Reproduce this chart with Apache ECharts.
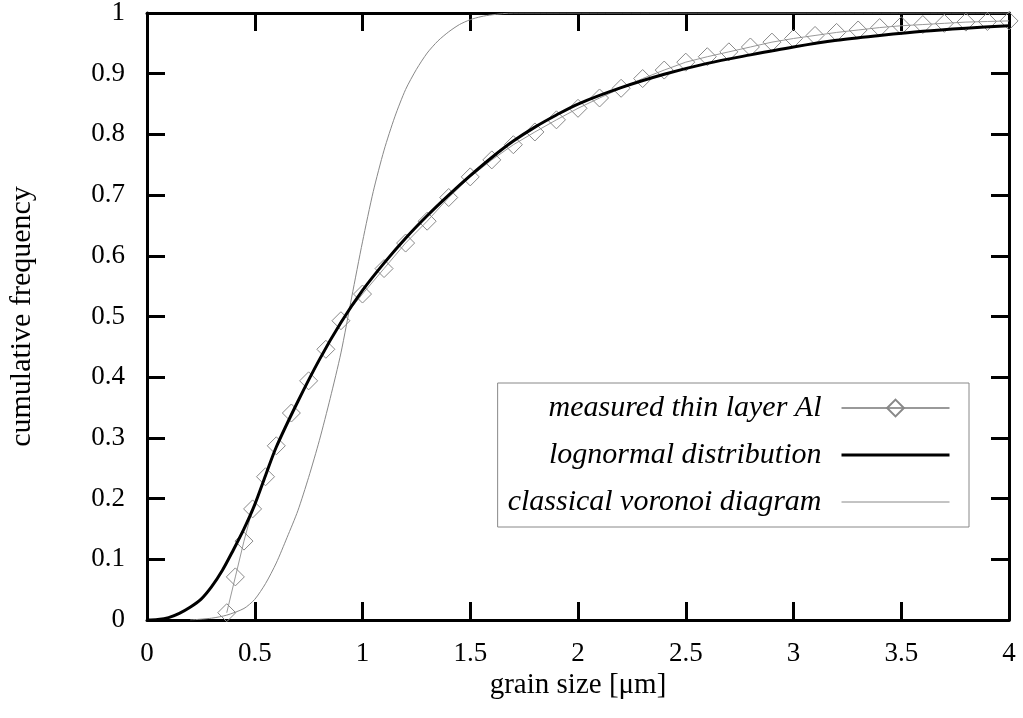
<!DOCTYPE html>
<html>
<head>
<meta charset="utf-8">
<script src="https://cdn.jsdelivr.net/npm/echarts@6/dist/echarts.min.js"></script>
<style>
html,body{margin:0;padding:0;background:#fff;}
#chart{width:1023px;height:718px;}
</style>
</head>
<body>
<div id="chart"></div>
<script>
// ---- data ----
const measuredX = [0.37,0.41,0.45,0.49,0.55,0.60,0.67,0.75,0.83,0.90,1.0,1.1,1.2,1.3,1.4,1.5,1.6,1.7,1.8,1.9,2.0,2.1,2.2,2.3,2.4,2.5,2.6,2.7,2.8,2.9,3.0,3.1,3.2,3.3,3.4,3.5,3.6,3.7,3.8,3.9,4.0];
const measuredY = [0.012,0.071,0.130,0.183,0.236,0.287,0.341,0.394,0.446,0.493,0.537,0.579,0.621,0.657,0.696,0.730,0.758,0.783,0.804,0.824,0.843,0.860,0.876,0.892,0.906,0.919,0.928,0.936,0.944,0.952,0.958,0.963,0.968,0.972,0.976,0.979,0.981,0.983,0.985,0.986,0.987];

const lognormalX = [0,0.05,0.1,0.15,0.2,0.25,0.3,0.35,0.4,0.45,0.5,0.55,0.6,0.7,0.8,0.9,1.0,1.1,1.2,1.3,1.4,1.5,1.6,1.7,1.8,1.9,2.0,2.2,2.4,2.6,2.8,3.0,3.2,3.4,3.6,3.8,4.0];
const lognormalY = [0,0.001,0.004,0.011,0.021,0.034,0.055,0.082,0.115,0.150,0.190,0.238,0.285,0.360,0.429,0.490,0.543,0.588,0.629,0.666,0.700,0.732,0.762,0.789,0.812,0.832,0.850,0.877,0.899,0.917,0.931,0.944,0.955,0.963,0.970,0.975,0.979];

const voronoiX = [0.2,0.3,0.37,0.45,0.5,0.55,0.6,0.65,0.7,0.75,0.8,0.85,0.9,0.95,1.0,1.05,1.1,1.15,1.2,1.25,1.3,1.35,1.4,1.45,1.5,1.55,1.6,1.7,1.8,4.0];
const voronoiY = [0,0.003,0.008,0.019,0.034,0.060,0.094,0.136,0.180,0.235,0.296,0.365,0.440,0.532,0.623,0.706,0.774,0.829,0.874,0.907,0.934,0.954,0.969,0.981,0.989,0.994,0.997,1.0,1.0,1.0];

const seriesNames = ['measured thin layer Al','lognormal distribution','classical voronoi diagram'];
const xTicks = {min:0, max:4, interval:0.5};
const yTicks = {min:0, max:1, interval:0.1};
const xName = 'grain size [μm]';
const yName = 'cumulative frequency';

// ---- chart ----
const pairs = (xs, ys) => xs.map((x, i) => [x, ys[i]]);
const serif = '"Liberation Serif", "Times New Roman", serif';
const chart = echarts.init(document.getElementById('chart'), null, {renderer:'canvas'});

const baseAxis = {
  axisLine: {show:true, onZero:false, lineStyle:{color:'#000', width:3}},
  axisTick: {show:true, inside:true, length:18, lineStyle:{color:'#000', width:3}},
  splitLine: {show:false},
};
const labelStyle = {color:'#000', fontFamily:serif, fontSize:27};

chart.setOption({
  animation: false,
  backgroundColor: '#fff',
  grid: {left:147, right:14, top:13, bottom:98, containLabel:false, outerBoundsMode:'none'},
  xAxis: [
    Object.assign({type:'value', position:'bottom', min:xTicks.min, max:xTicks.max, interval:xTicks.interval,
      name:xName, nameLocation:'middle', nameGap:51, nameMoveOverlap:false,
      nameTextStyle:{color:'#000', fontFamily:serif, fontSize:29},
      axisLabel: Object.assign({margin:20}, labelStyle)}, baseAxis),
    Object.assign({type:'value', position:'top', min:xTicks.min, max:xTicks.max, interval:xTicks.interval,
      axisLabel:{show:false}}, baseAxis)
  ],
  yAxis: [
    Object.assign({type:'value', position:'left', min:yTicks.min, max:yTicks.max, interval:yTicks.interval,
      name:yName, nameLocation:'middle', nameGap:110, nameRotate:90, nameMoveOverlap:false,
      nameTextStyle:{color:'#000', fontFamily:serif, fontSize:30},
      axisLabel: Object.assign({margin:22}, labelStyle)}, baseAxis),
    Object.assign({type:'value', position:'right', min:yTicks.min, max:yTicks.max, interval:yTicks.interval,
      axisLabel:{show:false}}, baseAxis)
  ],
  legend: {
    data: [
      {name: seriesNames[0]},
      {name: seriesNames[1], itemStyle:{opacity:0}, lineStyle:{color:'#000', width:3}},
      {name: seriesNames[2], itemStyle:{opacity:0}, lineStyle:{color:'#888', width:1}}
    ],
    orient: 'vertical',
    align: 'right',
    right: 54,
    top: 383,
    itemWidth: 108,
    itemHeight: 21,
    itemGap: 17,
    padding: [10, 18, 10, 10],
    borderColor: '#888',
    borderWidth: 1,
    backgroundColor: '#fff',
    selectedMode: false,
    formatter: n => n + '  ',
    textStyle: {color:'#000', fontFamily:serif, fontSize:30, fontStyle:'italic'}
  },
  series: [
    {
      name: seriesNames[0], type:'line', data: pairs(measuredX, measuredY),
      symbol:'diamond', symbolSize:18, showSymbol:true,
      lineStyle:{color:'#999', width:1},
      itemStyle:{color:'rgba(255,255,255,0)', borderColor:'#888', borderWidth:1},
      z: 2
    },
    {
      name: seriesNames[2], type:'line', data: pairs(voronoiX, voronoiY),
      symbol:'none', smooth:0.25,
      lineStyle:{color:'#888', width:1},
      itemStyle:{color:'#888'},
      z: 3
    },
    {
      name: seriesNames[1], type:'line', data: pairs(lognormalX, lognormalY),
      symbol:'none', smooth:0.3,
      lineStyle:{color:'#000', width:3},
      itemStyle:{color:'#000'},
      z: 4
    }
  ]
});
</script>
</body>
</html>
